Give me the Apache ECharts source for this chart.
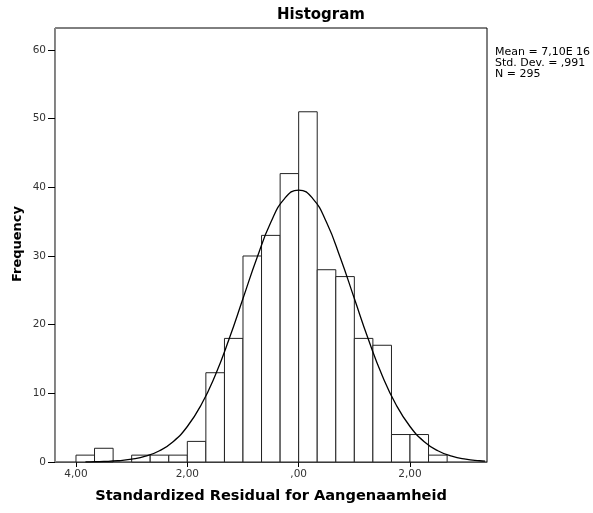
<!DOCTYPE html>
<html>
<head>
<meta charset="utf-8">
<script src="https://cdn.jsdelivr.net/npm/echarts/dist/echarts.min.js"></script>
<style>html,body{margin:0;padding:0;background:#fff;}#c{width:593px;height:513px;}</style>
</head>
<body>
<div id="c"></div>
<script>
// Histogram bin edges (standardized residual) and counts
var binEdges = [-4.0, -3.667, -3.333, -3.0, -2.667, -2.333, -2.0, -1.667, -1.333, -1.0, -0.667, -0.333, 0.0, 0.333, 0.667, 1.0, 1.333, 1.667, 2.0, 2.333, 2.667];
var counts = [1, 2, 0, 1, 1, 1, 3, 13, 18, 30, 33, 42, 51, 28, 27, 18, 17, 4, 4, 1];

// Normal curve points
var curveX = [-3.83, -3.75, -3.5, -3.25, -3.0, -2.75, -2.5, -2.25, -2.0, -1.75, -1.5, -1.25, -1.0, -0.75, -0.5, -0.25, 0.0, 0.25, 0.5, 0.75, 1.0, 1.25, 1.5, 1.75, 2.0, 2.25, 2.5, 2.75, 3.0, 3.25, 3.35];
var curveY = [0.02, 0.03, 0.08, 0.18, 0.41, 0.84, 1.64, 3.0, 5.17, 8.33, 12.6, 17.9, 23.8, 29.7, 34.9, 38.4, 39.6, 38.4, 34.9, 29.7, 23.8, 17.9, 12.6, 8.33, 5.17, 3.0, 1.64, 0.84, 0.41, 0.18, 0.13];

// Tick labels
var xTickValues = [-4, -2, 0, 2];
var xTickLabels = ['4,00', '2,00', ',00', '2,00'];
var yTickValues = [0, 10, 20, 30, 40, 50, 60];

var statLines = ['Mean = 7,10E 16', 'Std. Dev. = ,991', 'N = 295'];
var titleText = 'Histogram';
var xName = 'Standardized Residual for Aangenaamheid';
var yName = 'Frequency';

var barData = counts.map(function (c, i) { return [binEdges[i], binEdges[i + 1], c]; });
var curveData = curveX.map(function (x, i) { return [x, curveY[i]]; });

var FONT = 'DejaVu Sans';
var chart = echarts.init(document.getElementById('c'), null, {renderer: 'canvas'});
chart.setOption({
  animation: false,
  backgroundColor: '#fff',
  grid: {left: 55, right: 106, top: 28, bottom: 51, show: true, borderColor: '#000', borderWidth: 1, backgroundColor: 'transparent'},
  xAxis: {
    type: 'value', min: -4.377, max: 3.383,
    name: xName, nameLocation: 'middle', nameGap: 27,
    nameTextStyle: {fontFamily: FONT, fontWeight: 'bold', fontSize: 14.6, color: '#000'},
    axisLine: {show: true, onZero: false, lineStyle: {color: '#555', width: 1}},
    axisTick: {show: true, length: 5, inside: false, customValues: xTickValues, lineStyle: {color: '#000'}},
    axisLabel: {customValues: xTickValues, margin: 7, fontFamily: FONT, fontSize: 10.5, color: '#333',
      formatter: function (v) { var i = xTickValues.indexOf(v); return i >= 0 ? xTickLabels[i] : ''; }},
    splitLine: {show: false}
  },
  yAxis: {
    type: 'value', min: 0, max: 63.2,
    axisLine: {show: true, onZero: false, lineStyle: {color: '#888', width: 1}},
    axisTick: {show: true, length: 7, customValues: yTickValues, lineStyle: {color: '#000'}},
    axisLabel: {customValues: yTickValues, margin: 9, fontFamily: FONT, fontSize: 10.5, color: '#333'},
    splitLine: {show: false}
  },
  graphic: [
    {type: 'text', x: 321, y: 8, style: {text: titleText, fontFamily: FONT, fontWeight: 'bold', fontSize: 15, fill: '#000', textAlign: 'center'}},
    {type: 'text', x: 18, y: 244, rotation: Math.PI / 2, style: {text: yName, fontFamily: FONT, fontWeight: 'bold', fontSize: 13, fill: '#000', textAlign: 'center', textVerticalAlign: 'middle'}},
    {type: 'text', x: 495, y: 47, style: {text: statLines.join('\n'), fontFamily: FONT, fontSize: 11, lineHeight: 11, fill: '#000'}}
  ],
  series: [
    {
      type: 'custom', z: 2,
      data: barData,
      encode: {x: [0, 1], y: 2},
      renderItem: function (params, api) {
        var x0 = api.value(0), x1 = api.value(1), v = api.value(2);
        if (v <= 0) return null;
        var p0 = api.coord([x0, v]);
        var p1 = api.coord([x1, 0]);
        return {type: 'rect', shape: {x: p0[0], y: p0[1], width: p1[0] - p0[0], height: p1[1] - p0[1]},
          style: {fill: '#fff', stroke: '#222', lineWidth: 1}};
      }
    },
    {
      type: 'line', z: 3, data: curveData, smooth: true, showSymbol: false, symbol: 'none',
      lineStyle: {color: '#000', width: 1.3}
    }
  ]
});
</script>
</body>
</html>
